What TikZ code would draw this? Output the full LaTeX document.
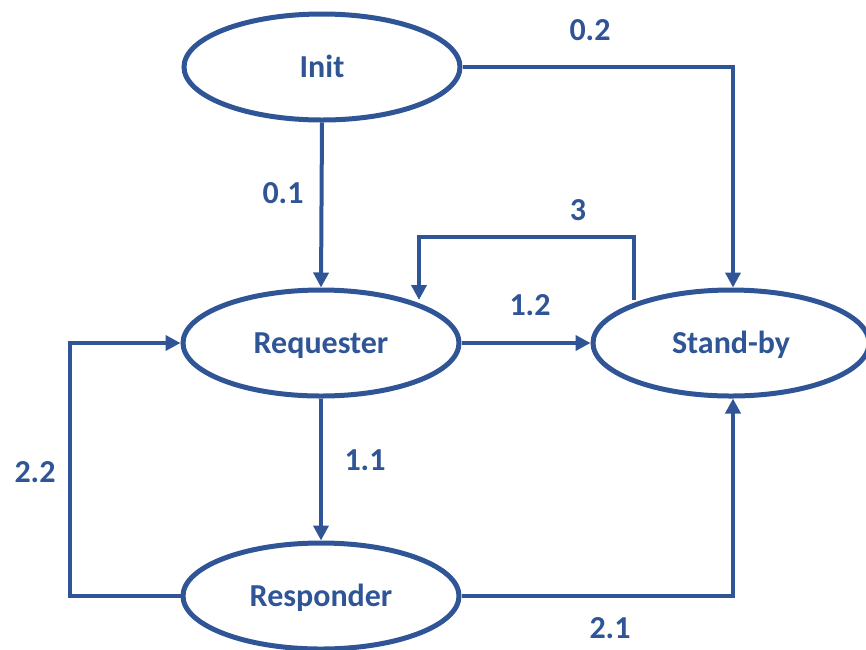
\documentclass[tikz,border=0pt]{standalone}
\usepackage{fontspec}
\setmainfont{Carlito}
\usetikzlibrary{shapes.geometric,arrows.meta,calc}
\definecolor{stateblue}{HTML}{2F5597}
\begin{document}
\begin{tikzpicture}[x=1pt,y=-1pt,
  state/.style={ellipse,draw=stateblue,line width=5pt,fill=white,
    minimum width=276pt,minimum height=106pt,inner sep=0pt,
    text height=21pt,text depth=1pt,
    text=stateblue,font=\fontsize{32}{38}\selectfont\bfseries},
  link/.style={draw=stateblue,line width=4pt,
    -{Triangle[length=15pt,width=15pt]}},
  lbl/.style={text=stateblue,font=\fontsize{32}{38}\selectfont\bfseries,inner sep=0pt}]
\useasboundingbox (0,0) rectangle (866,649);

% states
\node[state] (init) at (322,67) {Init};
\node[state] (req) at (321,343) {Requester};
\node[state] (sb) at (731,343) {Stand-by};
\node[state] (resp) at (321,596) {Responder};

% helper corners
\coordinate (c02) at (733,67);
\coordinate (c3a) at (634,237);
\coordinate (c3b) at (419,237);
\coordinate (c22a) at (70,596);
\coordinate (c22b) at (70,343);
\coordinate (c21) at (733,596);

% transitions
\draw[link] (init.south) -- (req.north);
\draw[link] (init.east) -- (c02) -- (c02 |- sb.north);
\draw[link] (req.east) -- (sb.west);
\draw[link] (req.south) -- (resp.north);
\draw[link] ($(sb.center)+(-97,-43)$) -- (c3a) -- (c3b) -- ($(req.center)+(98,-43)$);
\draw[link] (resp.west) -- (c22a) -- (c22b) -- (req.west);
\draw[link] (resp.east) -- (c21) -- (c21 |- sb.south);

% labels
\node[lbl] (l01) at (283,193) {0.1};
\node[lbl] (l02) at (590,30) {0.2};
\node[lbl] (l3) at (578,210) {3};
\node[lbl] (l12) at (530,305) {1.2};
\node[lbl] (l11) at (365,460) {1.1};
\node[lbl] (l22) at (35,472) {2.2};
\node[lbl] (l21) at (610,628) {2.1};
\end{tikzpicture}
\end{document}
